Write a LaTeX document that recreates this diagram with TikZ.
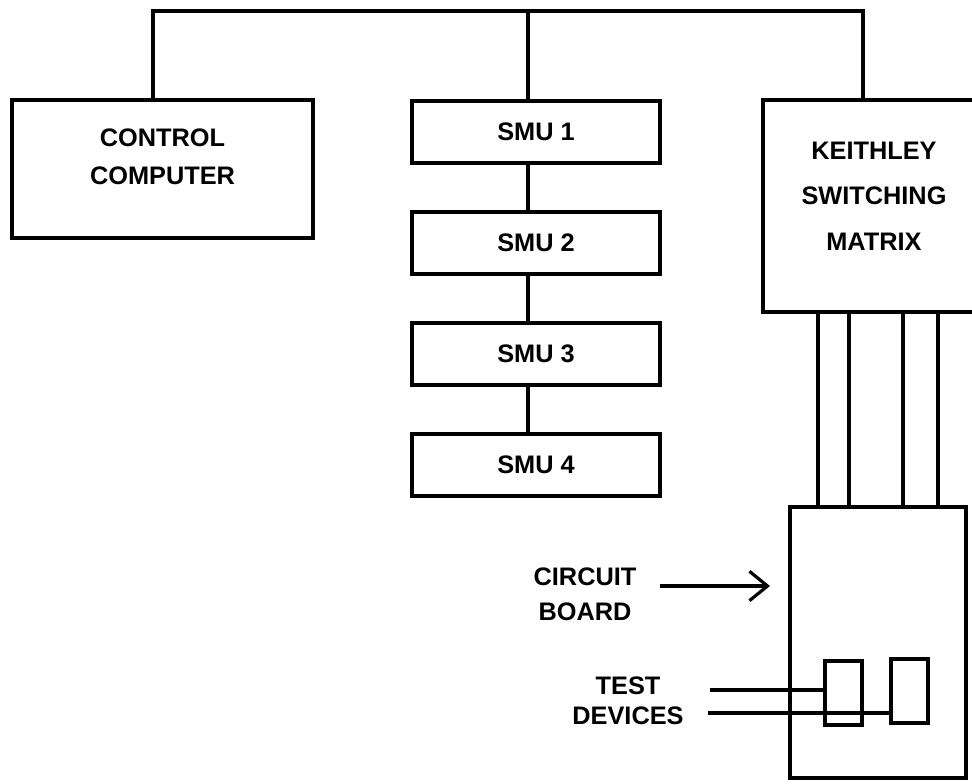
\documentclass[tikz,border=0pt]{standalone}
\usepackage{fontspec}
\setmainfont{Liberation Sans}
\usetikzlibrary{positioning,arrows.meta}

\tikzset{
  unit/.style={draw, line width=3pt, inner sep=0pt},
  smubox/.style={unit, minimum width=186pt, minimum height=46.5pt},
  devbox/.style={unit, minimum width=27.75pt, minimum height=48pt},
  wire/.style={line width=2.4pt},
  lbl/.style={font=\bfseries\fontsize{19}{26}\selectfont, align=center, inner sep=0pt},
}

\begin{document}
\begin{tikzpicture}[x=0.75pt, y=-0.75pt, line join=miter]
    \clip (0,0) rectangle (972,783);
    % instruments
    \node[unit, minimum width=225.75pt, minimum height=103.5pt] (comp) at (162.5,169) {};
    \node[lbl] (comptxt) at ([yshift=9pt]comp.center) {CONTROL\\[2.5pt]COMPUTER};

    \node[smubox, lbl] (smu1) at (536,131.5) {SMU 1};
    \node[smubox, lbl, below=33.75pt of smu1] (smu2) {SMU 2};
    \node[smubox, lbl, below=33.75pt of smu2] (smu3) {SMU 3};
    \node[smubox, lbl, below=33.75pt of smu3] (smu4) {SMU 4};

    \node[unit, minimum width=163.5pt, minimum height=159pt] (ksm) at (872,206) {};
    \node[lbl] (ksmtxt) at ([xshift=1.5pt, yshift=7.5pt]ksm.center) {KEITHLEY\\[8pt]SWITCHING\\[8pt]MATRIX};

    % board with the devices under test
    \node[unit, minimum width=132pt, minimum height=203.25pt] (cb) at (878,642.5) {};
    \node[devbox] (dev1) at (843.5,692.5) {};
    \node[devbox] (dev2) at (909,691) {};

    \node[lbl] (cbtxt) at (585,594) {CIRCUIT\\BOARD};
    \node[lbl] (tdtxt) at (628,701) {TEST\\[-3.5pt]DEVICES};

    % bus
    \coordinate (busL) at (153,11);
    \coordinate (busM) at (528,11);
    \coordinate (busR) at (863,11);
    \draw[wire] (comp.north -| busL) -- (busL) -- (busR) -- (ksm.north -| busR);
    \draw[wire] (busM) -- (smu1.north -| busM);
    \foreach \a/\b in {smu1/smu2, smu2/smu3, smu3/smu4}
        \draw[wire] (\a.south -| busM) -- (\b.north -| busM);

    % matrix to board
    \foreach \x in {818,849,903,938}
        \draw[wire] (ksm.south -| \x,0) -- (cb.north -| \x,0);

    % pointer and leads
    \coordinate (arrtail) at (660,586);
    \draw[wire, -{Straight Barb[length=13.5pt, width=22pt]}, shorten >=13.5pt] (arrtail) -- (arrtail -| cb.west);
    \coordinate (lead1) at (710,690);
    \coordinate (lead2) at (708,713);
    \draw[wire] (lead1) -- (lead1 -| dev1.west);
    \draw[wire] (lead2) -- (lead2 -| dev2.west);
\end{tikzpicture}
\end{document}
